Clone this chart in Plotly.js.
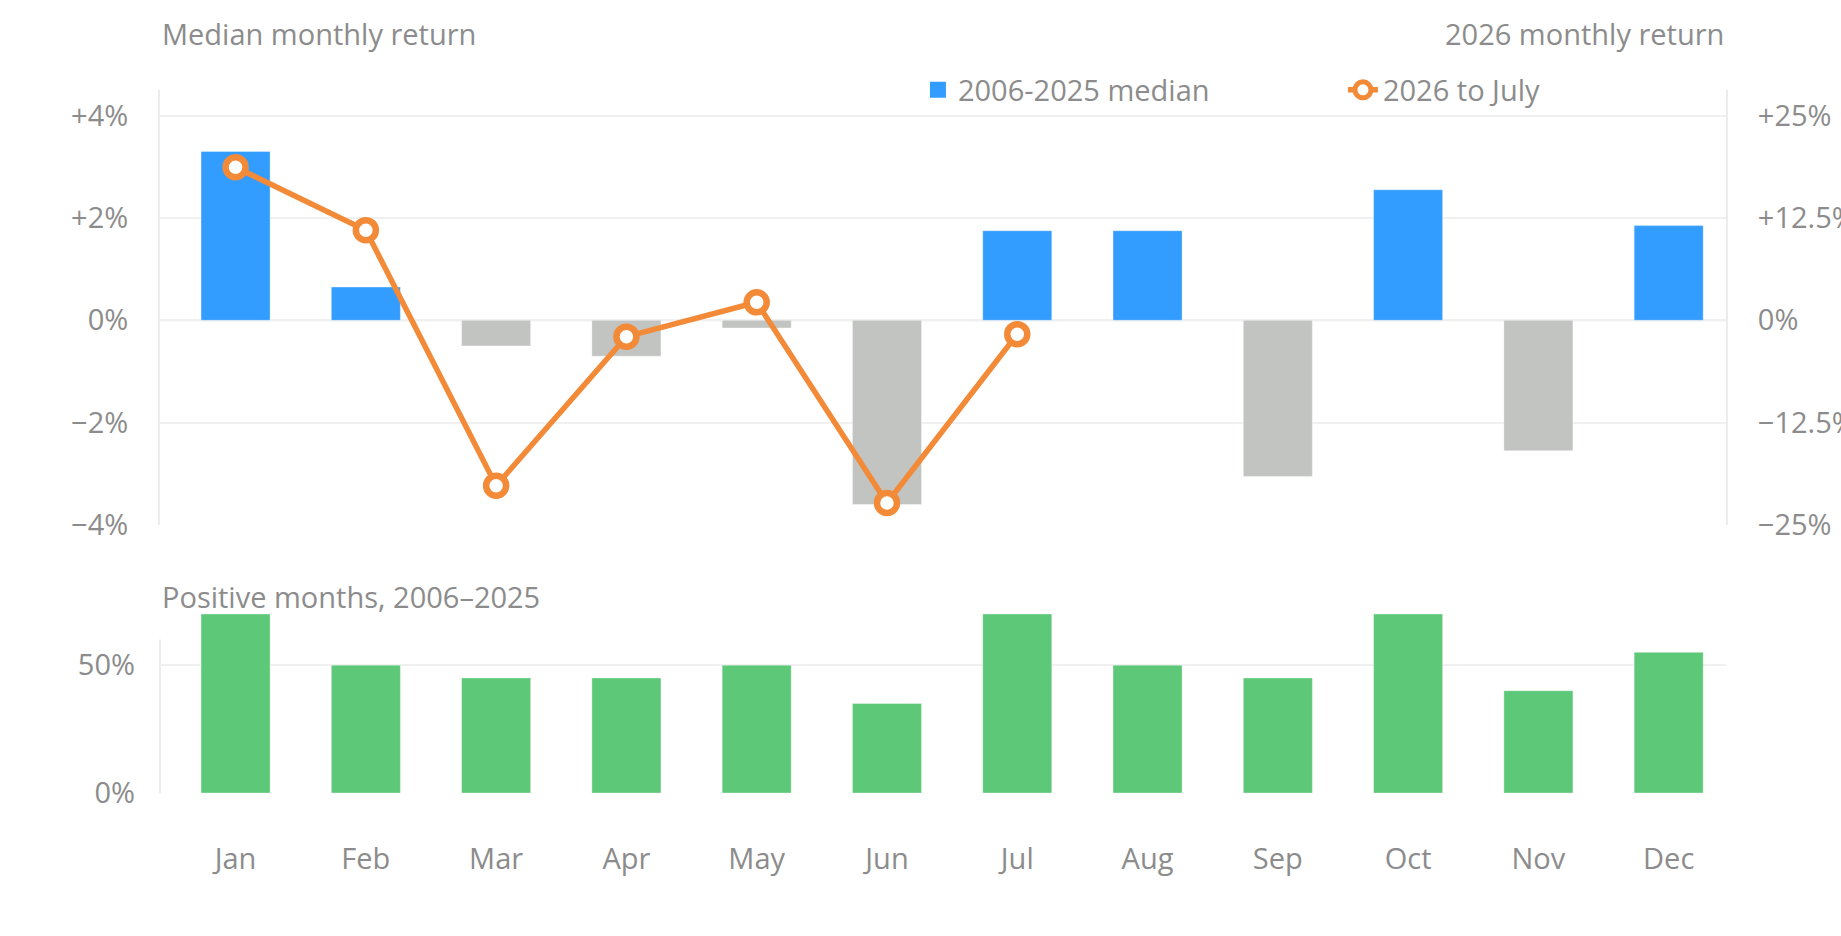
<!DOCTYPE html>
<html>
<head>
<meta charset="utf-8">
<script src="https://cdn.plot.ly/plotly-3.0.1.min.js"></script>
<style>
  html, body { margin: 0; padding: 0; background: #fff; }
  #chart { width: 1841px; height: 936px; }
</style>
</head>
<body>
<div id="chart"></div>
<script>
// month labels shared by both panels
const months = ['Jan', 'Feb', 'Mar', 'Apr', 'May', 'Jun', 'Jul', 'Aug', 'Sep', 'Oct', 'Nov', 'Dec'];

// median monthly return 2006-2025, in %
const medianReturn = [3.3, 0.65, -0.5, -0.7, -0.15, -3.6, 1.75, 1.75, -3.05, 2.55, -2.55, 1.85];

// 2026 monthly return, Jan to Jul, in %
const months2026 = ['Jan', 'Feb', 'Mar', 'Apr', 'May', 'Jun', 'Jul'];
const return2026 = [18.7, 11.0, -20.2, -2.0, 2.2, -22.3, -1.7];

// share of positive months 2006-2025, in %
const positiveShare = [70, 50, 45, 45, 50, 35, 70, 50, 45, 70, 40, 55];

const leftTicks = [-4, -2, 0, 2, 4];
const leftTickText = ['\u22124%', '\u22122%', '0%', '+2%', '+4%'];
const rightTicks = [-25, -12.5, 0, 12.5, 25];
const rightTickText = ['\u221225%', '\u221212.5%', '0%', '+12.5%', '+25%'];
const bottomTicks = [0, 50];
const bottomTickText = ['0%', '50%'];

const BLUE = '#339cff';
const GREY = '#c2c4c2';
const GREEN = '#5dc878';
const ORANGE = '#f28a38';
const TEXT = '#8c8c8c';
const GRID = '#f0f0f0';
const AXIS = '#ececec';
const FONT = 'Open Sans, Noto Sans, sans-serif';
const FS = 29;

const data = [
    {
        type: 'bar',
        name: '2006-2025 median',
        x: months,
        y: medianReturn,
        xaxis: 'x',
        yaxis: 'y',
        marker: {
            color: medianReturn.map(v => v >= 0 ? BLUE : GREY),
            line: { color: 'rgba(255,255,255,0.35)', width: 1 }
        },
        showlegend: false,
        hoverinfo: 'skip'
    },
    // legend entry only: a larger square than the bar legend glyph
    {
        type: 'scatter',
        mode: 'markers',
        name: '2006-2025 median',
        x: [null],
        y: [null],
        xaxis: 'x',
        yaxis: 'y',
        marker: { symbol: 'square', size: 16, color: BLUE },
        hoverinfo: 'skip'
    },
    {
        type: 'scatter',
        mode: 'lines+markers',
        name: '2026 to July',
        x: months2026,
        y: return2026,
        xaxis: 'x',
        yaxis: 'y2',
        line: { color: ORANGE, width: 5.5 },
        marker: { size: 20, color: '#ffffff', line: { color: ORANGE, width: 6.5 } },
        cliponaxis: false,
        hoverinfo: 'skip'
    },
    {
        type: 'bar',
        name: 'Positive months',
        x: months,
        y: positiveShare,
        xaxis: 'x2',
        yaxis: 'y3',
        marker: { color: GREEN, line: { color: 'rgba(255,255,255,0.35)', width: 1 } },
        showlegend: false,
        hoverinfo: 'skip'
    }
];

const yCommon = {
    showgrid: true,
    gridcolor: GRID,
    gridwidth: 2,
    zeroline: false,
    showline: true,
    linecolor: AXIS,
    linewidth: 2,
    ticks: '',
    ticklabelstandoff: 24,
    tickfont: { size: FS, color: TEXT }
};

const layout = {
    width: 1841,
    height: 936,
    margin: { l: 160, r: 115, t: 90, b: 143 },
    paper_bgcolor: '#ffffff',
    plot_bgcolor: '#ffffff',
    font: { family: FONT, size: FS, color: TEXT },
    bargap: 0.47,
    showlegend: true,
    legend: {
        orientation: 'h',
        x: 0.484,
        xanchor: 'left',
        y: 1.0,
        yanchor: 'middle',
        font: { size: FS, color: TEXT },
        bgcolor: 'rgba(0,0,0,0)',
        entrywidth: 380
    },
    xaxis: {
        type: 'category',
        range: [-0.58, 11.44],
        anchor: 'y',
        showticklabels: false,
        showgrid: false,
        zeroline: false,
        showline: false,
        ticks: ''
    },
    xaxis2: {
        type: 'category',
        matches: 'x',
        anchor: 'y3',
        showgrid: false,
        zeroline: false,
        showline: false,
        ticks: '',
        ticklabelstandoff: 46,
        tickfont: { size: FS, color: TEXT }
    },
    yaxis: Object.assign({}, yCommon, {
        domain: [0.3812, 1],
        range: [-4, 4.5],
        tickvals: leftTicks,
        ticktext: leftTickText
    }),
    yaxis2: Object.assign({}, yCommon, {
        overlaying: 'y',
        side: 'right',
        anchor: 'x',
        showgrid: false,
        range: [-25, 28.125],
        tickvals: rightTicks,
        ticktext: rightTickText
    }),
    // bottom panel: bars run past the 60% axis top, so the axis line is a shape
    yaxis3: Object.assign({}, yCommon, {
        domain: [0, 0.2546],
        range: [0, 70],
        showline: false,
        tickvals: bottomTicks,
        ticktext: bottomTickText
    }),
    shapes: [
        {
            type: 'line', xref: 'paper', yref: 'y',
            x0: 0, x1: 1, y0: 0, y1: 0,
            line: { color: '#e2e2e2', width: 2 },
            layer: 'below'
        },
        {
            type: 'line', xref: 'paper', yref: 'y3',
            x0: 0, x1: 0, y0: 0, y1: 60,
            line: { color: AXIS, width: 2 },
            layer: 'below'
        }
    ],
    annotations: [
        {
            text: 'Median monthly return', xref: 'paper', yref: 'paper',
            x: 0, y: 1.0806, xanchor: 'left', yanchor: 'middle', showarrow: false,
            font: { size: FS, color: TEXT }
        },
        {
            text: '2026 monthly return', xref: 'paper', yref: 'paper',
            x: 1, y: 1.0806, xanchor: 'right', yanchor: 'middle', showarrow: false,
            font: { size: FS, color: TEXT }
        },
        {
            text: 'Positive months, 2006\u20132025', xref: 'paper', yref: 'paper',
            x: 0, y: 0.2795, xanchor: 'left', yanchor: 'middle', showarrow: false,
            font: { size: FS, color: TEXT }
        }
    ]
};

Plotly.newPlot('chart', data, layout, { staticPlot: true, displayModeBar: false });
</script>
</body>
</html>
